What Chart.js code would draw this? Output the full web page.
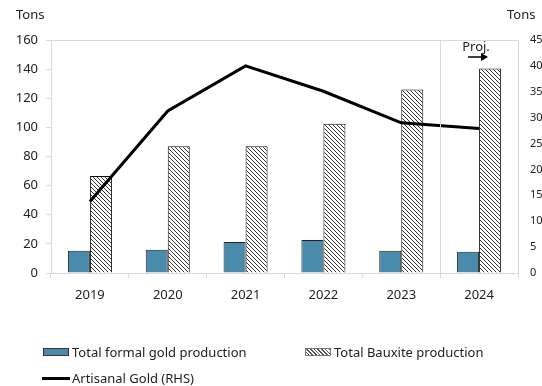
<!DOCTYPE html>
<html lang="en">
<head>
    <meta charset="UTF-8">
    <title>Gold and Bauxite Production</title>
    <script src="https://cdn.jsdelivr.net/npm/chart.js"></script>
    <style>
        body { margin: 0; background: #fff; font-family: "Noto Sans", sans-serif; }
        #wrap { position: relative; width: 542px; height: 386px; }
        .item { position: absolute; font-size: 13px; color: #222; line-height: 16px; display: flex; align-items: center; }
        .sw { width: 26px; height: 8px; margin-right: 3px; box-sizing: border-box; border: 1px solid #333; }
        .blue { background: #4a8aab; }
        .hatch { background: repeating-linear-gradient(45deg, #fff 0 1.6px, #555 1.6px 2.6px); border-color: #777; }
        .ln { width: 28px; height: 3px; background: #000; margin-right: 2px; }
    </style>
</head>
<body>
<div id="wrap">
    <canvas id="prodChart" width="542" height="386"></canvas>
    <div class="item" style="left:43px; top:344px;"><span class="sw blue"></span>Total formal gold production</div>
    <div class="item" style="left:305px; top:344px;"><span class="sw hatch"></span>Total Bauxite production</div>
    <div class="item" style="left:42px; top:370px;"><span class="ln"></span>Artisanal Gold (RHS)</div>
</div>

<script>
    var years = ['2019', '2020', '2021', '2022', '2023', '2024'];
    var formalGold = [15.3, 16, 21.3, 22.7, 15.3, 14.6];
    var bauxite = [66.6, 87, 87, 102.5, 126, 140.5];
    var artisanalGold = [13.8, 31.3, 40, 35.1, 29, 27.9];
    var leftTicks = [0, 20, 40, 60, 80, 100, 120, 140, 160];
    var rightTicks = [0, 5, 10, 15, 20, 25, 30, 35, 40, 45];

    // diagonal hatch fill for the bauxite bars
    function makeHatch() {
        var c = document.createElement('canvas');
        c.width = 4; c.height = 4;
        var g = c.getContext('2d');
        g.fillStyle = '#fff';
        g.fillRect(0, 0, 4, 4);
        g.strokeStyle = '#333';
        g.lineWidth = 1;
        [-4, 0, 4].forEach(function(o) {
            g.beginPath();
            g.moveTo(o - 1, -1);
            g.lineTo(o + 5, 5);
            g.stroke();
        });
        return g.createPattern(c, 'repeat');
    }

    var FONT = { family: '"Noto Sans", sans-serif', size: 13 };

    // axis units, plot frame, projection divider
    var extras = {
        id: 'extras',
        afterDraw: function(chart) {
            var ctx = chart.ctx, a = chart.chartArea, x = chart.scales.x;
            ctx.save();
            ctx.strokeStyle = '#d9d9d9';
            ctx.lineWidth = 1;
            ctx.beginPath();
            ctx.moveTo(a.left, a.top + 0.5);
            ctx.lineTo(a.right, a.top + 0.5);
            var div = Math.round((x.getPixelForValue(4) + x.getPixelForValue(5)) / 2) + 0.5;
            ctx.moveTo(div, a.top);
            ctx.lineTo(div, a.bottom);
            ctx.stroke();

            ctx.fillStyle = '#222';
            ctx.font = '13px "Noto Sans", sans-serif';
            ctx.textBaseline = 'middle';
            ctx.textAlign = 'left';
            ctx.fillText('Tons', 16, 15);
            ctx.fillText('Tons', 507, 15);

            ctx.textAlign = 'center';
            ctx.fillText('Proj.', 476, 47);
            ctx.strokeStyle = '#000';
            ctx.lineWidth = 1.5;
            ctx.beginPath();
            ctx.moveTo(468, 57);
            ctx.lineTo(482, 57);
            ctx.stroke();
            ctx.fillStyle = '#000';
            ctx.beginPath();
            ctx.moveTo(488, 57);
            ctx.lineTo(481, 53);
            ctx.lineTo(481, 61);
            ctx.closePath();
            ctx.fill();
            ctx.restore();
        }
    };

    var ctx = document.getElementById('prodChart').getContext('2d');
    var prodChart = new Chart(ctx, {
        type: 'bar',
        data: {
            labels: years,
            datasets: [{
                label: 'Artisanal Gold (RHS)',
                type: 'line',
                data: artisanalGold,
                yAxisID: 'y1',
                borderColor: '#000',
                borderWidth: 3,
                pointRadius: 0,
                tension: 0,
                order: 0
            }, {
                label: 'Total formal gold production',
                data: formalGold,
                backgroundColor: '#4a8aab',
                borderColor: '#222',
                borderWidth: 1,
                order: 1
            }, {
                label: 'Total Bauxite production',
                data: bauxite,
                backgroundColor: makeHatch(),
                borderColor: '#111',
                borderWidth: 1,
                order: 1
            }]
        },
        options: {
            responsive: false,
            animation: false,
            layout: { padding: { top: 40, bottom: 78, left: 0, right: 0 } },
            plugins: { legend: { display: false }, tooltip: { enabled: false } },
            datasets: { bar: { barPercentage: 1, categoryPercentage: 0.566 } },
            scales: {
                x: {
                    grid: { display: true, drawOnChartArea: false, color: '#d9d9d9', tickLength: 5 },
                    border: { color: '#d9d9d9' },
                    ticks: { color: '#222', font: FONT, padding: 9 },
                    afterFit: function(s) { s.height = 35; }
                },
                y: {
                    position: 'left',
                    min: 0, max: 160,
                    afterBuildTicks: function(s) { s.ticks = leftTicks.map(function(v) { return { value: v }; }); },
                    grid: { display: true, drawOnChartArea: false, color: '#d9d9d9', tickLength: 5 },
                    border: { color: '#d9d9d9' },
                    ticks: { color: '#222', font: FONT, padding: 8 },
                    afterFit: function(s) { s.width = 51; }
                },
                y1: {
                    position: 'right',
                    min: 0, max: 45,
                    afterBuildTicks: function(s) { s.ticks = rightTicks.map(function(v) { return { value: v }; }); },
                    grid: { display: false, drawTicks: false },
                    border: { display: true, color: '#d9d9d9' },
                    ticks: { color: '#222', font: { family: '"Noto Sans", sans-serif', size: 11 }, padding: 12 },
                    afterFit: function(s) { s.width = 24; }
                }
            }
        },
        plugins: [extras]
    });
</script>
</body>
</html>
